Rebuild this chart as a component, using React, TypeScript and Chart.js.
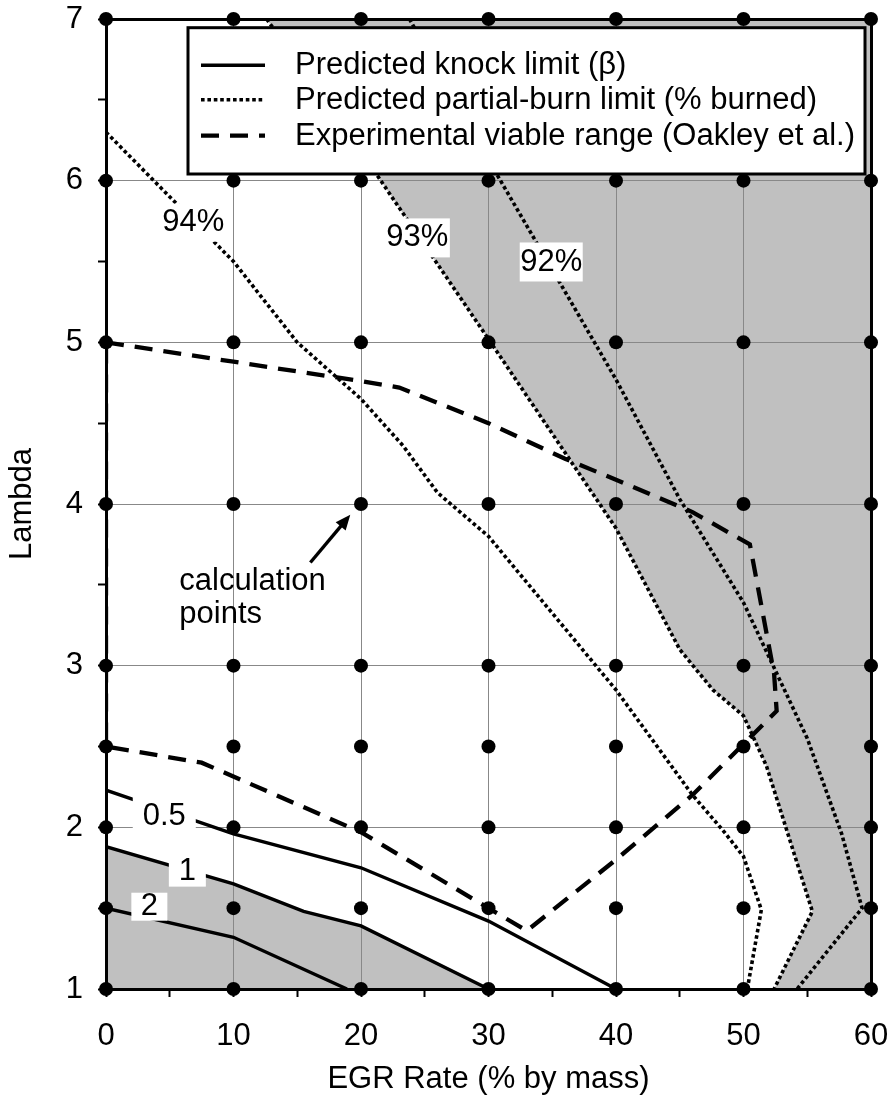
import React, { useEffect, useRef } from 'react';
import { Chart, registerables } from 'chart.js';

Chart.register(...registerables);

const FONT_FAMILY = "'Liberation Sans', Arial, Helvetica, sans-serif";
const TEXT_SIZE = 31;

// Axis ticks that carry a label
const egrTicks = [0, 10, 20, 30, 40, 50, 60];
const lambdaTicks = [1, 2, 3, 4, 5, 6, 7];

// Grid of EGR rates and lambdas where the model was evaluated
const egrCalc = [0, 10, 20, 30, 40, 50, 60];
const lambdaCalc = [1, 1.5, 2, 2.5, 3, 4, 5, 6, 7];

// Predicted knock-limit contours (beta = 0.5, 1, 2)
const knock05Egr = [0, 10, 20, 30, 40];
const knock05Lambda = [2.23, 1.96, 1.75, 1.42, 1.0];
const knock1Egr = [0, 10, 15.5, 20, 30];
const knock1Lambda = [1.88, 1.65, 1.48, 1.39, 1.0];
const knock2Egr = [0, 10, 18.9];
const knock2Lambda = [1.5, 1.32, 1.0];

// Predicted partial-burn contours (% burned)
const burn94Egr = [0, 10, 15, 20, 23.3, 26, 30, 40, 46, 48.4, 50, 51.4, 50.3];
const burn94Lambda = [6.3, 5.5, 5.0, 4.65, 4.36, 4.07, 3.8, 2.85, 2.2, 1.98, 1.82, 1.49, 1.0];
const burn93Egr = [12.6, 20, 25, 30, 40, 45, 47.6, 50, 51.8, 55.4, 52.4];
const burn93Lambda = [7.0, 6.18, 5.6, 5.02, 3.85, 3.1, 2.85, 2.69, 2.38, 1.48, 1.0];
const burn92Egr = [23.8, 30.5, 35, 40, 45, 50, 55, 57.7, 59.3, 54.2];
const burn92Lambda = [7.0, 6.06, 5.45, 4.77, 4.03, 3.39, 2.55, 1.96, 1.5, 1.0];

// Experimental viable operating range (Oakley et al.), closed outline
const expEgr = [0, 10, 20, 23, 30, 36, 40, 46, 50.5, 52.4, 52.6, 46, 40, 33, 30, 20, 7.5, 0, 0];
const expLambda = [5.0, 4.88, 4.76, 4.72, 4.5, 4.28, 4.15, 3.95, 3.75, 2.95, 2.72, 2.2, 1.8, 1.36, 1.5, 1.97, 2.4, 2.5, 5.0];

// Contour labels and where they sit (EGR, lambda)
const contourLabels = ['94%', '93%', '92%', '0.5', '1', '2'];
const contourLabelEgr = [6.85, 24.42, 34.92, 4.57, 6.38, 3.4];
const contourLabelLambda = [5.74, 5.646, 5.497, 2.07, 1.726, 1.509];
const contourLabelBoxW = [64, 65, 63, 63, 37, 36];
const contourLabelBoxH = [38, 39, 39, 38, 30, 28];

// "calculation points" callout
const calloutLines = ['calculation', 'points'];
const calloutEgr = 5.75;
const calloutLambda = 3.469;
const arrowTailEgr = 16.03;
const arrowTailLambda = 3.638;
const arrowTipEgr = 19.16;
const arrowTipLambda = 3.933;

const legendLabels = [
  'Predicted knock limit (\u03b2)',
  'Predicted partial-burn limit (% burned)',
  'Experimental viable range (Oakley et al.)',
];

const knockStyle = { borderWidth: 3.4, borderDash: [] as number[] };
const burnStyle = { borderWidth: 3.6, borderDash: [3.6, 2.8] };
const expStyle = { borderWidth: 4.3, borderDash: [18, 11] };
const legendStyles = [knockStyle, burnStyle, expStyle];

const SHADE = '#c0c0c0';
const GRID = '#888888';

const zip = (xs: number[], ys: number[]) => xs.map((x, i) => ({ x, y: ys[i] }));

const calcPoints = egrCalc.flatMap((x) => lambdaCalc.map((y) => ({ x, y })));
const knockArea = [...zip(knock1Egr, knock1Lambda), { x: 0, y: 1 }];
const burnArea = [...zip(burn93Egr, burn93Lambda), { x: 60, y: 1 }, { x: 60, y: 7 }];

const lineDefaults = {
  borderColor: '#000',
  pointRadius: 0,
  fill: false,
  tension: 0,
  borderCapStyle: 'butt' as const,
  borderJoinStyle: 'miter' as const,
};

// Keep the plot frame where the layout padding puts it: edge tick labels may overhang.
const noOverhang = (scale: any) => {
  scale.paddingTop = 0;
  scale.paddingBottom = 0;
  scale.paddingLeft = 0;
  scale.paddingRight = 0;
};

const overlayPlugin = {
  id: 'overlay',
  afterDatasetsDraw(chart: any) {
    const { ctx } = chart;
    const xs = chart.scales.x;
    const ys = chart.scales.y;
    ctx.save();
    ctx.font = `${TEXT_SIZE}px ${FONT_FAMILY}`;
    ctx.textAlign = 'center';
    ctx.textBaseline = 'middle';
    contourLabels.forEach((t, i) => {
      const px = xs.getPixelForValue(contourLabelEgr[i]);
      const py = ys.getPixelForValue(contourLabelLambda[i]);
      const w = contourLabelBoxW[i];
      const h = contourLabelBoxH[i];
      ctx.fillStyle = '#fff';
      ctx.fillRect(px - w / 2, py - h / 2, w, h);
      ctx.fillStyle = '#000';
      ctx.fillText(t, px, py);
    });

    // callout text
    ctx.textAlign = 'left';
    ctx.textBaseline = 'alphabetic';
    const cx = xs.getPixelForValue(calloutEgr);
    const cy = ys.getPixelForValue(calloutLambda);
    calloutLines.forEach((t, i) => ctx.fillText(t, cx, cy + i * 33.5));

    // callout arrow
    const tx = xs.getPixelForValue(arrowTailEgr);
    const ty = ys.getPixelForValue(arrowTailLambda);
    const hx = xs.getPixelForValue(arrowTipEgr);
    const hy = ys.getPixelForValue(arrowTipLambda);
    const ang = Math.atan2(hy - ty, hx - tx);
    const c = Math.cos(ang);
    const s = Math.sin(ang);
    const headLen = 15;
    const headHalf = 6.5;
    const bx = hx - headLen * c;
    const by = hy - headLen * s;
    ctx.strokeStyle = '#000';
    ctx.fillStyle = '#000';
    ctx.lineWidth = 3.4;
    ctx.beginPath();
    ctx.moveTo(tx, ty);
    ctx.lineTo(bx + c, by + s);
    ctx.stroke();
    ctx.beginPath();
    ctx.moveTo(hx, hy);
    ctx.lineTo(bx + headHalf * s, by - headHalf * c);
    ctx.lineTo(bx - headHalf * s, by + headHalf * c);
    ctx.closePath();
    ctx.fill();
    ctx.restore();
  },
  afterDraw(chart: any) {
    const { ctx, chartArea } = chart;
    const left = chartArea.left + 82;
    const top = chartArea.top + 8.7;
    const right = chartArea.right - 6;
    const bottom = top + 146.3;
    ctx.save();
    ctx.fillStyle = '#fff';
    ctx.fillRect(left, top, right - left, bottom - top);
    ctx.strokeStyle = '#000';
    ctx.lineWidth = 3;
    ctx.strokeRect(left, top, right - left, bottom - top);
    const rows = [37.5, 72, 108];
    ctx.font = `${TEXT_SIZE}px ${FONT_FAMILY}`;
    ctx.textAlign = 'left';
    ctx.textBaseline = 'middle';
    legendLabels.forEach((label, i) => {
      const y = top + rows[i];
      const st = legendStyles[i];
      ctx.lineWidth = st.borderWidth;
      ctx.setLineDash(st.borderDash);
      ctx.lineCap = 'butt';
      ctx.beginPath();
      ctx.moveTo(left + 13, y);
      ctx.lineTo(left + 77, y);
      ctx.stroke();
      ctx.setLineDash([]);
      ctx.fillStyle = '#000';
      ctx.fillText(label, left + 107, y + 0.5);
    });
    ctx.restore();
  },
};

export default function App() {
  const canvasRef = useRef<HTMLCanvasElement | null>(null);

  useEffect(() => {
    const canvas = canvasRef.current;
    if (!canvas) return;
    Chart.defaults.font.family = FONT_FAMILY;
    Chart.defaults.font.size = TEXT_SIZE;
    Chart.defaults.color = '#000';

    const chart = new Chart(canvas, {
      type: 'line',
      data: {
        datasets: [
          {
            label: 'calculation points',
            data: calcPoints,
            showLine: false,
            pointRadius: 7,
            pointBackgroundColor: '#000',
            pointBorderWidth: 0,
            clip: false,
            order: 0,
          } as any,
          { label: '\u03b2 = 0.5', data: zip(knock05Egr, knock05Lambda), ...lineDefaults, ...knockStyle, order: 1 },
          { label: '\u03b2 = 1', data: zip(knock1Egr, knock1Lambda), ...lineDefaults, ...knockStyle, order: 1 },
          { label: '\u03b2 = 2', data: zip(knock2Egr, knock2Lambda), ...lineDefaults, ...knockStyle, order: 1 },
          { label: '94%', data: zip(burn94Egr, burn94Lambda), ...lineDefaults, ...burnStyle, order: 1 },
          { label: '93%', data: zip(burn93Egr, burn93Lambda), ...lineDefaults, ...burnStyle, order: 1 },
          { label: '92%', data: zip(burn92Egr, burn92Lambda), ...lineDefaults, ...burnStyle, order: 1 },
          { label: 'Oakley et al.', data: zip(expEgr, expLambda), ...lineDefaults, ...expStyle, order: 1 },
          {
            label: 'knock region',
            data: knockArea,
            ...lineDefaults,
            borderColor: 'rgba(0,0,0,0)',
            borderWidth: 0,
            backgroundColor: SHADE,
            fill: 'shape',
            order: 5,
          },
          {
            label: 'partial-burn region',
            data: burnArea,
            ...lineDefaults,
            borderColor: 'rgba(0,0,0,0)',
            borderWidth: 0,
            backgroundColor: SHADE,
            fill: 'shape',
            order: 5,
          },
        ] as any,
      },
      options: {
        animation: false,
        responsive: false,
        events: [],
        layout: { padding: { left: 0, right: 19, top: 19, bottom: 0 } },
        plugins: {
          legend: { display: false },
          tooltip: { enabled: false },
          filler: { drawTime: 'beforeDraw' },
        } as any,
        scales: {
          x: {
            type: 'linear',
            min: 0,
            max: 60,
            afterFit: (scale: any) => {
              scale.height = 112;
              noOverhang(scale);
            },
            ticks: {
              stepSize: 5,
              autoSkip: false,
              maxRotation: 0,
              padding: 21,
              color: '#000',
              font: { size: TEXT_SIZE },
              callback: (v: any) => (egrTicks.includes(Number(v)) ? String(v) : ''),
            },
            grid: {
              color: (ctx: any) => {
                const v = ctx.tick?.value;
                if (v === 0 || v === 60) return '#000';
                return v % 10 === 0 ? GRID : 'rgba(0,0,0,0)';
              },
              lineWidth: (ctx: any) => (ctx.tick?.value === 60 || ctx.tick?.value === 0 ? 3 : 1),
              tickColor: '#000',
              tickWidth: 2,
              tickLength: 8,
            },
            border: { display: true, color: '#000', width: 3 },
            title: {
              display: true,
              text: 'EGR Rate (% by mass)',
              color: '#000',
              font: { size: TEXT_SIZE },
              padding: { top: 0, bottom: 3.1 },
            },
          },
          y: {
            type: 'linear',
            min: 1,
            max: 7,
            afterFit: (scale: any) => {
              scale.width = 106;
              noOverhang(scale);
            },
            ticks: {
              stepSize: 0.5,
              autoSkip: false,
              padding: 15,
              color: '#000',
              font: { size: TEXT_SIZE },
              callback: (v: any) => (lambdaTicks.includes(Number(v)) ? String(v) : ''),
            },
            grid: {
              color: (ctx: any) => {
                const v = ctx.tick?.value;
                if (v === 1 || v === 7) return '#000';
                return Number.isInteger(v) ? GRID : 'rgba(0,0,0,0)';
              },
              lineWidth: (ctx: any) => (ctx.tick?.value === 7 || ctx.tick?.value === 1 ? 3 : 1),
              tickColor: '#000',
              tickWidth: 2,
              tickLength: 8,
            },
            border: { display: true, color: '#000', width: 3 },
            title: {
              display: true,
              text: 'Lambda',
              color: '#000',
              font: { size: TEXT_SIZE },
              padding: { top: 3.7, bottom: 0 },
            },
          },
        },
      } as any,
      plugins: [overlayPlugin],
    });

    return () => chart.destroy();
  }, []);

  return (
    <div style={{ position: 'absolute', left: 0, top: 0, width: 890, height: 1101, background: '#fff' }}>
      <canvas ref={canvasRef} width={890} height={1101} style={{ display: 'block' }} />
    </div>
  );
}
